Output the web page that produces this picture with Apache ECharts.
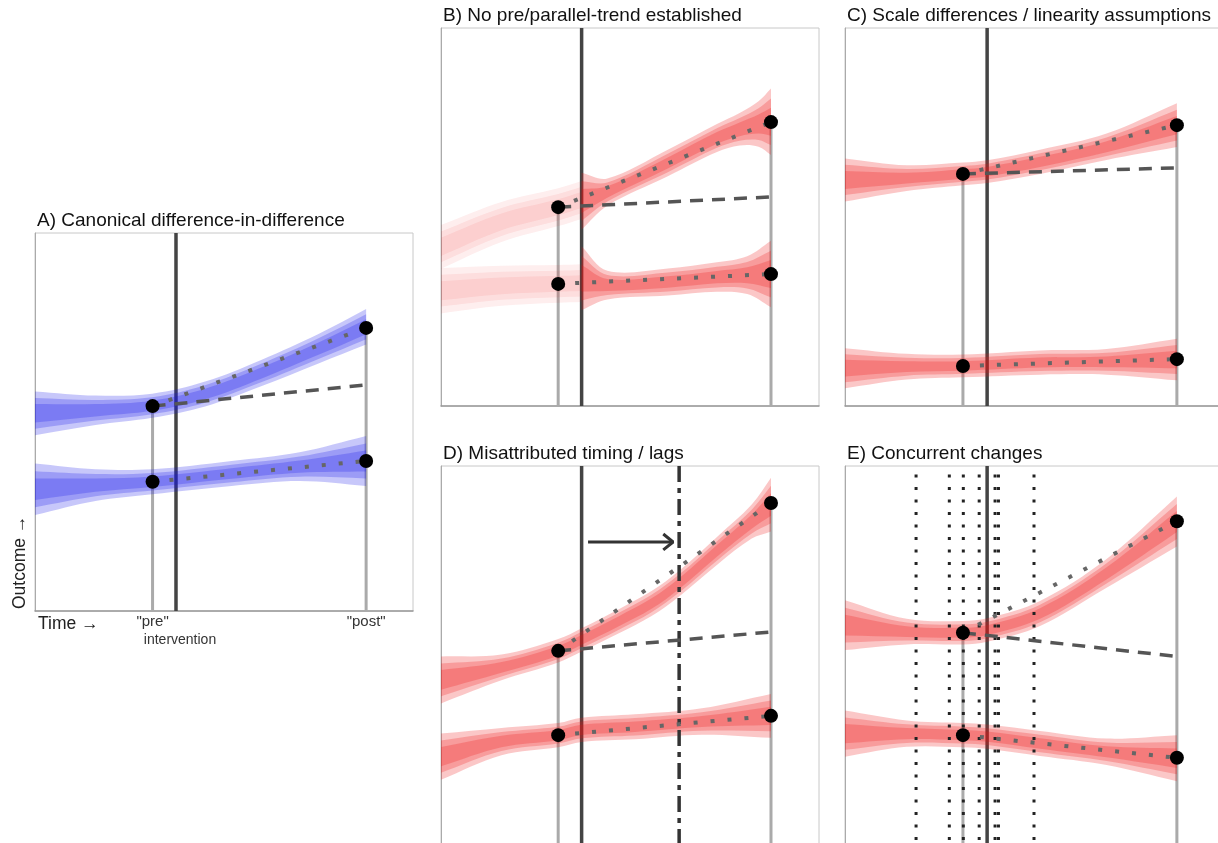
<!DOCTYPE html>
<html>
<head>
<meta charset="utf-8">
<title>Difference-in-difference pitfalls</title>
<script src="https://cdn.jsdelivr.net/npm/echarts@6/dist/echarts.min.js"></script>
<style>
    html, body { margin: 0; padding: 0; background: #fff; }
    #chart { width: 1218px; height: 843px; }
</style>
</head>
<body>
<div id="chart"></div>
<script>
// panels A..E, each axis runs 0..100 (time → , outcome ↑)
var panelTitles = [
    'A) Canonical difference-in-difference',
    'B) No pre/parallel-trend established',
    'C) Scale differences / linearity assumptions',
    'D) Misattributed timing / lags',
    'E) Concurrent changes'
];

var preX = [31.1, 31.0, 31.2, 31.0, 31.2];
var interventionX = [37.3, 37.2, 37.6, 37.2, 37.6];
var postX = [87.6, 87.3, 87.8, 87.3, 87.8];

// measured points
var treatedPre = [54.2, 52.6, 61.4, 51.1, 55.9];
var treatedPost = [74.9, 75.1, 74.3, 90.2, 85.4];
var counterfactualPost = [59.8, 55.3, 63.0, 56.1, 49.6];
var controlPre = [34.2, 32.3, 10.6, 28.8, 28.8];
var controlPost = [39.7, 34.9, 12.4, 33.9, 22.8];

// ribbons: [time, centre, half width of outer band]
var bandA_treated = [[0, 52.3, 5.8], [16, 53.1, 3.9], [31, 54.3, 3.2], [45, 57.4, 3.3], [60, 63.0, 3.5], [75, 69.4, 3.9], [87.6, 75.2, 4.7]];
var bandA_control = [[0, 32.2, 6.8], [16, 33.3, 4.2], [31, 34.2, 3.3], [52, 36.4, 3.3], [70, 38.2, 3.8], [87.6, 39.7, 6.6]];

var bandB_treatedPre = [[0, 42.1, 5.8], [16, 48.7, 5.3], [31, 52.6, 5.0], [37.2, 54.5, 5.0]];
var bandB_controlPre = [[0, 30.5, 6.0], [16, 31.8, 5.3], [31, 32.3, 5.0], [37.2, 32.5, 5.0]];
var bandB_treated = [[37.2, 54.2, 7.5], [44, 56.6, 3.6], [60, 64.3, 3.5], [73, 70.9, 3.7], [79, 73.2, 4.3], [84, 74.6, 6.0], [87.3, 75.2, 8.8]];
var bandB_control = [[37.2, 33.8, 8.4], [44, 32.0, 3.8], [60, 32.8, 3.6], [73, 34.1, 3.9], [81, 34.6, 5.0], [87.3, 34.9, 8.8]];

var bandC_treated = [[0, 59.8, 5.7], [16.3, 60.3, 3.4], [31.2, 61.4, 3.0], [37.6, 62.0, 3.0], [51.6, 64.6, 3.2], [69.2, 68.6, 3.5], [87.8, 74.3, 5.8]];
var bandC_control = [[0, 10.0, 5.3], [16.3, 10.4, 3.4], [31.2, 10.6, 3.0], [51.6, 11.5, 3.2], [69.2, 11.7, 3.4], [87.8, 12.3, 5.5]];

var bandD_treated = [[0, 43.4, 6.2], [16, 46.7, 3.4], [31, 51.1, 3.1], [37.2, 54.0, 3.1], [46.8, 58.8, 3.2], [55.7, 63.6, 3.3], [63, 68.9, 3.4], [73.3, 77.8, 3.7], [82.2, 85.3, 4.5], [87.3, 89.8, 7.1]];
var bandD_control = [[0, 23.1, 6.1], [16, 27.1, 3.6], [31, 28.8, 3.2], [37.2, 30.2, 3.2], [51.3, 31.0, 3.3], [69, 32.4, 3.5], [87.3, 33.9, 5.8]];

var bandE_treated = [[0, 57.9, 6.6], [16.3, 56.2, 3.4], [31.2, 55.9, 3.1], [37.6, 56.6, 3.1], [51.6, 61.0, 3.3], [69.2, 71.6, 3.8], [87.8, 85.3, 6.6]];
var bandE_control = [[0, 29.2, 6.1], [16.3, 29.2, 3.5], [31.2, 28.8, 3.2], [37.6, 28.4, 3.2], [51.6, 26.6, 3.3], [69.2, 24.4, 3.5], [87.8, 22.7, 6.1]];

// D: real start of the effect + arrow
var lagX = 63.0;
var lagArrow = [[38.9, 79.9], [61.4, 79.9]];
var lagArrowHead = [[58.8, 82.0], [61.4, 79.9], [58.8, 77.8]];
// E: other things happening around the intervention
var concurrentX = [18.8, 27.6, 31.3, 35.5, 39.7, 40.6, 50.0];

var BLUE = '20,20,235';
var RED = '240,20,20';
var panelBands = [
    [[bandA_treated, BLUE, 0.24], [bandA_control, BLUE, 0.24]],
    [[bandB_treatedPre, RED, 0.07], [bandB_controlPre, RED, 0.07], [bandB_treated, RED, 0.24], [bandB_control, RED, 0.24]],
    [[bandC_treated, RED, 0.24], [bandC_control, RED, 0.24]],
    [[bandD_treated, RED, 0.24], [bandD_control, RED, 0.24]],
    [[bandE_treated, RED, 0.24], [bandE_control, RED, 0.24]]
];

var FONT = '"Liberation Sans", Arial, sans-serif';
var gridPos = [[35, 233], [441, 28], [845, 28], [441, 466], [845, 466]];

function ribbon(rows, rgb, alpha) {
    return function (params, api) {
        if (params.dataIndex !== 0) return null;
        var layers = [1, 0.7, 0.42].map(function (f) {
            var top = rows.map(function (r) { return api.coord([r[0], r[1] + r[2] * f]); });
            var bottom = rows.map(function (r) { return api.coord([r[0], r[1] - r[2] * f]); }).reverse();
            // doubled end points keep the ribbon ends square
            var pts = [top[0]].concat(top, [top[top.length - 1], bottom[0]], bottom, [bottom[bottom.length - 1]]);
            return {
                type: 'polygon',
                shape: {points: pts, smooth: 0.35},
                style: {fill: 'rgba(' + rgb + ',' + alpha + ')'}
            };
        });
        return {type: 'group', children: layers};
    };
}

function seg(p, data, color, width, type, z, extra) {
    var s = {
        type: 'line',
        xAxisIndex: p,
        yAxisIndex: p,
        data: data,
        symbol: 'none',
        silent: true,
        z: z,
        lineStyle: {color: color, width: width, type: type || 'solid'}
    };
    if (extra) Object.assign(s.lineStyle, extra);
    return s;
}

var grids = [], xAxes = [], yAxes = [], titles = [], series = [];

gridPos.forEach(function (g, p) {
    grids.push({
        left: g[0], top: g[1], width: 378, height: 378,
        outerBoundsMode: 'none',
        show: true, borderColor: '#c8c8c8', borderWidth: 1
    });
    xAxes.push({
        gridIndex: p, type: 'value', min: 0, max: 100,
        axisLine: {show: true, lineStyle: {color: '#999', width: 1.5}},
        axisTick: {show: false},
        splitLine: {show: false},
        axisLabel: p === 0 ? {
            show: true,
            customValues: [preX[0], postX[0]],
            formatter: function (v) { return v === preX[0] ? '"pre"' : '"post"'; },
            fontSize: 15, fontFamily: FONT, color: '#333', margin: 3
        } : {show: false}
    });
    yAxes.push({
        gridIndex: p, type: 'value', min: 0, max: 100,
        axisLine: {show: true, lineStyle: {color: '#aaa'}},
        axisTick: {show: false}, axisLabel: {show: false}, splitLine: {show: false}
    });
    titles.push({
        text: panelTitles[p], left: g[0] + 2, top: g[1] - 22, padding: 0,
        textStyle: {fontSize: 19, fontWeight: 'normal', color: '#111', fontFamily: FONT}
    });

    // pre / post reference lines
    series.push(seg(p, [[preX[p], treatedPre[p]], [preX[p], 0]], '#aaa', 3, 'solid', 1));
    series.push(seg(p, [[postX[p], treatedPost[p]], [postX[p], 0]], '#aaa', 3, 'solid', 1));
    // intervention
    series.push(seg(p, [[interventionX[p], 0], [interventionX[p], 100]], '#444', 3.5, 'solid', 2));

    panelBands[p].forEach(function (b) {
        series.push({
            type: 'custom', xAxisIndex: p, yAxisIndex: p, data: b[0],
            encode: {x: 0, y: 1}, clip: true, silent: true, z: 3,
            renderItem: ribbon(b[0], b[1], b[2])
        });
    });

    // counterfactual and observed trends
    series.push(seg(p, [[preX[p], treatedPre[p]], [postX[p], counterfactualPost[p]]], '#555', 3.5, [13, 9], 5));
    series.push(seg(p, [[preX[p], treatedPre[p]], [postX[p], treatedPost[p]]], '#666', 4, [4, 13], 5));
    series.push(seg(p, [[preX[p], controlPre[p]], [postX[p], controlPost[p]]], '#666', 4, [4, 13], 5));

    series.push({
        type: 'scatter', xAxisIndex: p, yAxisIndex: p, symbolSize: 14, silent: true, z: 6,
        itemStyle: {color: '#000', opacity: 1},
        data: [[preX[p], treatedPre[p]], [postX[p], treatedPost[p]], [preX[p], controlPre[p]], [postX[p], controlPost[p]]]
    });
});

// D extras
series.push(seg(3, [[lagX, 100], [lagX, 0]], '#333', 3.5, [16, 6, 5, 6], 4));
series.push(seg(3, lagArrow, '#333', 3, 'solid', 6));
series.push(seg(3, lagArrowHead, '#333', 3, 'solid', 6));
// E extras
concurrentX.forEach(function (x) {
    series.push(seg(4, [[x, 100], [x, 0]], '#222', 3, [3, 9.5], 4, {dashOffset: 4}));
});

var chart = echarts.init(document.getElementById('chart'), null, {renderer: 'canvas'});
chart.setOption({
    backgroundColor: '#fff',
    animation: false,
    title: titles,
    grid: grids,
    xAxis: xAxes,
    yAxis: yAxes,
    series: series,
    graphic: [
        {type: 'text', x: 38, y: 624, style: {text: 'Time →', fontSize: 17.5, fontFamily: FONT, fill: '#222', align: 'left', verticalAlign: 'middle'}},
        {type: 'text', x: 180, y: 640, style: {text: 'intervention', fontSize: 14, fontFamily: FONT, fill: '#333', align: 'center', verticalAlign: 'middle'}},
        {type: 'text', x: 20, y: 609, rotation: Math.PI / 2, style: {text: 'Outcome →', fontSize: 17.5, fontFamily: FONT, fill: '#222', align: 'left', verticalAlign: 'middle'}}
    ]
});
</script>
</body>
</html>
